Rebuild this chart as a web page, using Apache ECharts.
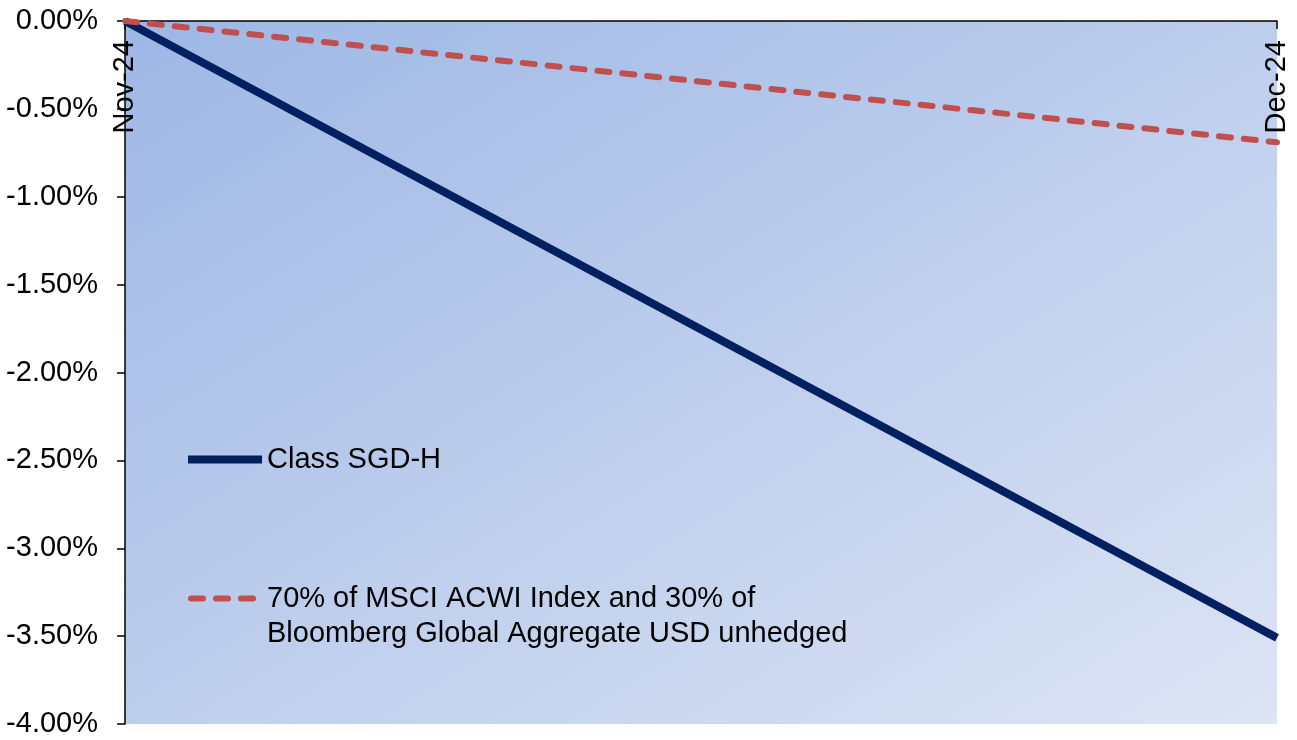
<!DOCTYPE html>
<html>
<head>
<meta charset="utf-8">
<title>Class SGD-H performance</title>
<script src="https://cdn.jsdelivr.net/npm/echarts@6/dist/echarts.min.js"></script>
<style>
  html, body { margin: 0; padding: 0; background: #ffffff; }
  #chart { width: 1297px; height: 740px; }
</style>
</head>
<body>
<div id="chart"></div>
<script>
// Monthly points on the category axis
const months = ['Nov-24', 'Dec-24'];

// Cumulative returns in percent
const classSgdH = [0, -3.51];
const benchmark = [0, -0.69];

// Series names shown in the legend
const nameFund = 'Class SGD-H';
const nameBench = '70% of MSCI ACWI Index and 30% of\nBloomberg Global Aggregate USD unhedged';

// Value axis range and step (percent)
const yMin = -4;
const yMax = 0;
const yStep = 0.5;

const FONT = '"Liberation Sans", Arial, sans-serif';
const FONT_SIZE = 29;
const FUND_COLOR = '#002060';
const BENCH_COLOR = '#C0504D';

// Plot box: gradient runs corner to corner, with the other two corners at mid-tone
const W = 1297, H = 740;
const G = { left: 125, top: 21, right: 20, bottom: 16 };
const pw = W - G.left - G.right;
const ph = H - G.top - G.bottom;
const k = 2 * pw * ph / (pw * pw + ph * ph);
const gx2 = k * ph / pw;
const gy2 = k * pw / ph;

// Legend markers show only the line stroke
const hiddenSymbol = { color: 'rgba(0,0,0,0)', borderWidth: 0, opacity: 0 };

const chart = echarts.init(document.getElementById('chart'), null, { renderer: 'canvas' });

chart.setOption({
  animation: false,
  backgroundColor: '#ffffff',
  grid: {
    left: G.left,
    top: G.top,
    right: G.right,
    bottom: G.bottom,
    show: true,
    borderWidth: 0,
    backgroundColor: new echarts.graphic.LinearGradient(0, 0, gx2, gy2, [
      { offset: 0, color: '#9db7e5' },
      { offset: 1, color: '#dde4f4' }
    ])
  },
  legend: [
    {
      data: [nameFund],
      left: 184,
      top: 442,
      padding: 0,
      itemWidth: 74,
      itemHeight: 40,
      selectedMode: false,
      itemStyle: hiddenSymbol,
      lineStyle: { width: 8, color: FUND_COLOR, type: 'solid' },
      textStyle: { fontFamily: FONT, fontSize: FONT_SIZE, color: '#000000', lineHeight: 35 }
    },
    {
      data: [nameBench],
      left: 188,
      top: 546,
      padding: 0,
      // wide enough for three dashes plus the space before the text
      itemWidth: 71,
      itemHeight: 40,
      selectedMode: false,
      itemStyle: hiddenSymbol,
      lineStyle: { width: 6, color: BENCH_COLOR, type: [12, 13], cap: 'round' },
      // a blank first row keeps the marker level with the first line of the name
      formatter: name => '\n' + name,
      textStyle: { fontFamily: FONT, fontSize: FONT_SIZE, color: '#000000', lineHeight: 35 }
    }
  ],
  xAxis: {
    type: 'category',
    data: months,
    position: 'top',
    boundaryGap: false,
    axisLine: { show: true, lineStyle: { color: '#000000', width: 1.5 } },
    axisTick: { show: true, inside: true, length: 8, lineStyle: { color: '#000000', width: 1.5 } },
    axisLabel: {
      inside: true,
      rotate: 90,
      margin: 19,
      interval: 0,
      showMinLabel: true,
      showMaxLabel: true,
      fontFamily: FONT,
      fontSize: FONT_SIZE,
      color: '#000000'
    },
    splitLine: { show: false }
  },
  yAxis: {
    type: 'value',
    min: yMin,
    max: yMax,
    interval: yStep,
    axisLine: { show: true, lineStyle: { color: '#000000', width: 1.5 } },
    axisTick: { show: true, inside: false, length: 8, lineStyle: { color: '#000000', width: 1.5 } },
    axisLabel: {
      margin: 27,
      fontFamily: FONT,
      fontSize: FONT_SIZE,
      color: '#000000',
      formatter: v => v.toFixed(2) + '%'
    },
    splitLine: { show: false }
  },
  series: [
    {
      name: nameFund,
      type: 'line',
      data: classSgdH,
      symbol: 'none',
      lineStyle: { color: FUND_COLOR, width: 8 },
      itemStyle: { color: FUND_COLOR },
      z: 3
    },
    {
      name: nameBench,
      type: 'line',
      data: benchmark,
      symbol: 'none',
      lineStyle: { color: BENCH_COLOR, width: 6, type: [12, 13], cap: 'round' },
      itemStyle: { color: BENCH_COLOR },
      z: 4
    }
  ]
});
</script>
</body>
</html>
